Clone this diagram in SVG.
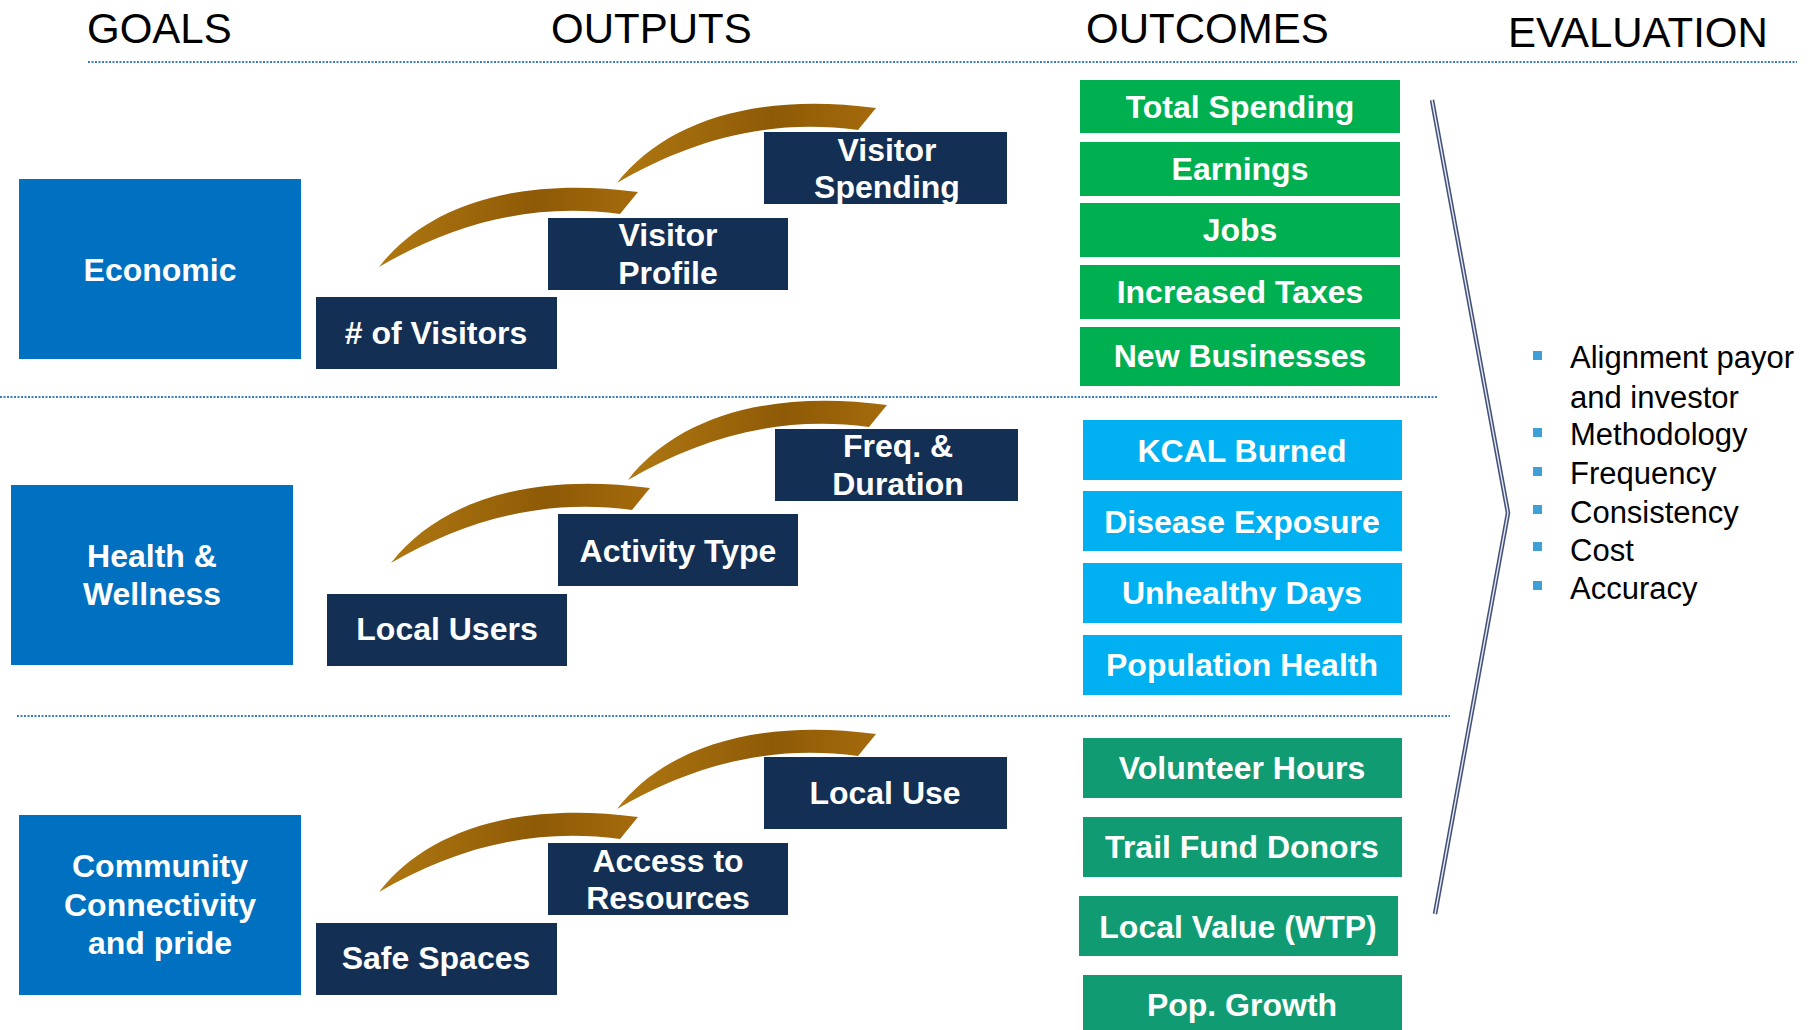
<svg xmlns="http://www.w3.org/2000/svg" xmlns:xlink="http://www.w3.org/1999/xlink" width="1816" height="1030" viewBox="0 0 1816 1030">
<style>
.hdr{font-family:"Liberation Sans",Arial,sans-serif;font-size:42px;fill:#000}
.lbl{font-family:"Liberation Sans",Arial,sans-serif;font-size:32px;font-weight:bold;fill:#fff;text-anchor:middle}
.ev{font-family:"Liberation Sans",Arial,sans-serif;font-size:31px;fill:#000}
.goal{fill:#0070C0}
.out{fill:#132F53}
.g1{fill:#00B050}
.g2{fill:#00B0F0}
.g3{fill:#119B73}
.sep{stroke:#3A7DC9;stroke-width:2;stroke-dasharray:2 1.5;fill:none}
.bul{fill:#3FA0D8}
</style>
<defs>
<linearGradient id="sw" x1="0" y1="0" x2="1" y2="0">
<stop offset="0" stop-color="#B07812"/>
<stop offset="0.6" stop-color="#8E5A06"/>
<stop offset="1" stop-color="#A56A0C"/>
</linearGradient>
<path id="swoosh" d="M0,0 C48,-62 140,-91 259,-75 L241,-53 C150,-65 72,-42 0,0 Z" fill="url(#sw)"/>
</defs>
<rect width="1816" height="1030" fill="#fff"/>

<g id="headers">
<text class="hdr" x="87" y="43">GOALS</text>
<text class="hdr" x="551" y="43">OUTPUTS</text>
<text class="hdr" x="1086" y="43">OUTCOMES</text>
<text class="hdr" x="1508" y="47">EVALUATION</text>
</g>

<g id="separators">
<line class="sep" x1="88" y1="62" x2="1797" y2="62"/>
<line class="sep" x1="0" y1="397" x2="1437" y2="397"/>
<line class="sep" x1="17" y1="716" x2="1450" y2="716"/>
</g>

<g id="connectors">
<use xlink:href="#swoosh" transform="translate(379,267)"/>
<use xlink:href="#swoosh" transform="translate(617,183)"/>
<use xlink:href="#swoosh" transform="translate(391,563)"/>
<use xlink:href="#swoosh" transform="translate(628,480)"/>
<use xlink:href="#swoosh" transform="translate(379,892)"/>
<use xlink:href="#swoosh" transform="translate(617,809)"/>
<polyline points="1432,100 1508,513 1435,914" fill="none" stroke="#44527A" stroke-width="4.5"/>
<polyline points="1432,100 1508,513 1435,914" fill="none" stroke="#E6E9F0" stroke-width="1.4"/>
</g>

<g id="economic"><rect class="goal" x="19" y="179" width="282" height="180"/><text class="lbl" x="160" y="281">Economic</text></g>
<g id="visitors"><rect class="out" x="316" y="297" width="241" height="72"/><text class="lbl" x="436" y="344"># of Visitors</text></g>
<g id="visitor-profile"><rect class="out" x="548" y="218" width="240" height="72"/><text class="lbl" x="668" y="246">Visitor</text><text class="lbl" x="668" y="284">Profile</text></g>
<g id="visitor-spending"><rect class="out" x="764" y="132" width="243" height="72"/><text class="lbl" x="887" y="161">Visitor</text><text class="lbl" x="887" y="198">Spending</text></g>

<g id="health"><rect class="goal" x="11" y="485" width="282" height="180"/><text class="lbl" x="152" y="567">Health &amp;</text><text class="lbl" x="152" y="605">Wellness</text></g>
<g id="local-users"><rect class="out" x="327" y="594" width="240" height="72"/><text class="lbl" x="447" y="640">Local Users</text></g>
<g id="activity-type"><rect class="out" x="558" y="514" width="240" height="72"/><text class="lbl" x="678" y="562">Activity Type</text></g>
<g id="freq"><rect class="out" x="775" y="429" width="243" height="72"/><text class="lbl" x="898" y="457">Freq. &amp;</text><text class="lbl" x="898" y="495">Duration</text></g>

<g id="community"><rect class="goal" x="19" y="815" width="282" height="180"/><text class="lbl" x="160" y="877">Community</text><text class="lbl" x="160" y="916">Connectivity</text><text class="lbl" x="160" y="954">and pride</text></g>
<g id="safe-spaces"><rect class="out" x="316" y="923" width="241" height="72"/><text class="lbl" x="436" y="969">Safe Spaces</text></g>
<g id="access"><rect class="out" x="548" y="843" width="240" height="72"/><text class="lbl" x="668" y="872">Access to</text><text class="lbl" x="668" y="909">Resources</text></g>
<g id="local-use"><rect class="out" x="764" y="757" width="243" height="72"/><text class="lbl" x="885" y="804">Local Use</text></g>

<g id="total-spending"><rect class="g1" x="1080" y="80" width="320" height="53"/><text class="lbl" x="1240" y="118">Total Spending</text></g>
<g id="earnings"><rect class="g1" x="1080" y="142" width="320" height="54"/><text class="lbl" x="1240" y="180">Earnings</text></g>
<g id="jobs"><rect class="g1" x="1080" y="203" width="320" height="54"/><text class="lbl" x="1240" y="241">Jobs</text></g>
<g id="increased-taxes"><rect class="g1" x="1080" y="265" width="320" height="54"/><text class="lbl" x="1240" y="303">Increased Taxes</text></g>
<g id="new-businesses"><rect class="g1" x="1080" y="327" width="320" height="59"/><text class="lbl" x="1240" y="367">New Businesses</text></g>

<g id="kcal"><rect class="g2" x="1083" y="420" width="319" height="60"/><text class="lbl" x="1242" y="462">KCAL Burned</text></g>
<g id="disease"><rect class="g2" x="1083" y="491" width="319" height="60"/><text class="lbl" x="1242" y="533">Disease Exposure</text></g>
<g id="unhealthy"><rect class="g2" x="1083" y="563" width="319" height="60"/><text class="lbl" x="1242" y="604">Unhealthy Days</text></g>
<g id="population"><rect class="g2" x="1083" y="635" width="319" height="60"/><text class="lbl" x="1242" y="676">Population Health</text></g>

<g id="volunteer"><rect class="g3" x="1083" y="738" width="319" height="60"/><text class="lbl" x="1242" y="779">Volunteer Hours</text></g>
<g id="trail-fund"><rect class="g3" x="1083" y="817" width="319" height="60"/><text class="lbl" x="1242" y="858">Trail Fund Donors</text></g>
<g id="local-value"><rect class="g3" x="1079" y="896" width="319" height="60"/><text class="lbl" x="1238" y="938">Local Value (WTP)</text></g>
<g id="pop-growth"><rect class="g3" x="1083" y="975" width="319" height="60"/><text class="lbl" x="1242" y="1016">Pop. Growth</text></g>

<g id="evaluation">
<rect class="bul" x="1533" y="351" width="9" height="9"/>
<rect class="bul" x="1533" y="428" width="9" height="9"/>
<rect class="bul" x="1533" y="467" width="9" height="9"/>
<rect class="bul" x="1533" y="505" width="9" height="9"/>
<rect class="bul" x="1533" y="542" width="9" height="9"/>
<rect class="bul" x="1533" y="581" width="9" height="9"/>
<text class="ev" x="1570" y="368">Alignment payor</text>
<text class="ev" x="1570" y="408">and investor</text>
<text class="ev" x="1570" y="445">Methodology</text>
<text class="ev" x="1570" y="484">Frequency</text>
<text class="ev" x="1570" y="523">Consistency</text>
<text class="ev" x="1570" y="561">Cost</text>
<text class="ev" x="1570" y="599">Accuracy</text>
</g>
</svg>
